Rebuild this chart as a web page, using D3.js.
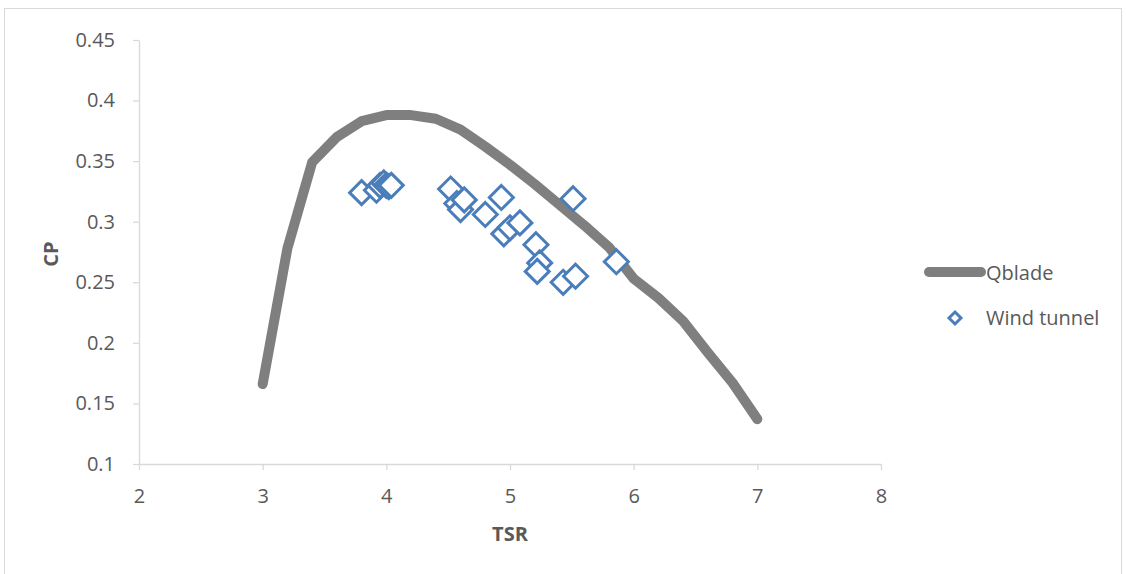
<!DOCTYPE html>
<html><head><meta charset="utf-8">
<script src="https://cdn.jsdelivr.net/npm/d3@7"></script>
<style>body{margin:0;background:#fff}svg{display:block}text{font-family:"Open Sans",sans-serif}</style>
</head><body><svg id="c" width="1126" height="574"></svg>
<script>
const qbladeTSR = [3.0, 3.2, 3.4, 3.6, 3.8, 4.0, 4.2, 4.4, 4.6, 4.8, 5.0, 5.2, 5.4, 5.6, 5.8, 6.0, 6.2, 6.4, 6.6, 6.8, 7.0];
const qbladeCP  = [0.166, 0.278, 0.349, 0.37, 0.383, 0.388, 0.388, 0.385, 0.376, 0.362, 0.347, 0.331, 0.314, 0.297, 0.279, 0.253, 0.237, 0.218, 0.192, 0.167, 0.137];
const tunnelTSR = [3.80, 3.92, 3.95, 3.98, 4.00, 4.02, 4.04, 4.52, 4.57, 4.60, 4.63, 4.80, 4.93, 4.95, 5.00, 5.08, 5.21, 5.24, 5.22, 5.43, 5.53, 5.51, 5.86];
const tunnelCP  = [0.324, 0.326, 0.330, 0.332, 0.330, 0.329, 0.330, 0.327, 0.315, 0.310, 0.318, 0.306, 0.320, 0.290, 0.295, 0.299, 0.281, 0.266, 0.259, 0.250, 0.255, 0.319, 0.267];
const xTicks = [2, 3, 4, 5, 6, 7, 8];
const yTicks = [0.1, 0.15, 0.2, 0.25, 0.3, 0.35, 0.4, 0.45];
const seriesNames = ["Qblade", "Wind tunnel"];

const FS = 20;
const svg = d3.select("#c");
svg.append("rect").attr("x", 4.5).attr("y", 8.5).attr("width", 1117).attr("height", 570)
  .attr("fill", "#fff").attr("stroke", "#d9d9d9");

const x = d3.scaleLinear().domain([2, 8]).range([139, 881]);
const y = d3.scaleLinear().domain([0.1, 0.45]).range([464, 40]);

const axisCol = "#d9d9d9", txtCol = "#595959";
const xa = svg.append("g").attr("transform", "translate(0,464)")
  .call(d3.axisBottom(x).tickValues(xTicks).tickSize(6).tickSizeOuter(0).tickFormat(d3.format("d")));
const ya = svg.append("g").attr("transform", "translate(139,0)")
  .call(d3.axisLeft(y).tickValues(yTicks).tickSize(6).tickSizeOuter(0).tickFormat(d => String(+d.toFixed(2))));
[xa, ya].forEach(g => {
  g.select(".domain").attr("stroke", axisCol).attr("stroke-width", 1.3);
  g.selectAll(".tick line").attr("stroke", axisCol).attr("stroke-width", 1.3);
  g.selectAll(".tick text").attr("fill", txtCol).attr("font-size", FS).attr("font-family", "'Open Sans', sans-serif");
});
xa.selectAll(".tick text").attr("y", 39).attr("dy", 0);
ya.selectAll(".tick text").attr("x", -24);

svg.append("text").attr("x", 510).attr("y", 541).attr("text-anchor", "middle")
  .attr("font-size", FS).attr("font-weight", "bold").attr("fill", txtCol).text("TSR");
svg.append("text").attr("transform", "translate(58,254) rotate(-90)").attr("text-anchor", "middle")
  .attr("font-size", FS).attr("font-weight", "bold").attr("fill", txtCol).text("CP");

const lineData = qbladeTSR.map((t, i) => [t, qbladeCP[i]]);
svg.append("path").datum(lineData)
  .attr("d", d3.line().x(d => x(d[0])).y(d => y(d[1])))
  .attr("fill", "none").attr("stroke", "#7f7f7f").attr("stroke-width", 10)
  .attr("stroke-linejoin", "round").attr("stroke-linecap", "round");

const blue = "#4a7ebb";
function diamond(r) { return `M0,${-r}L${r},0L0,${r}L${-r},0Z`; }
const pts = tunnelTSR.map((t, i) => [t, tunnelCP[i]]);
svg.append("g").selectAll("path").data(pts).join("path")
  .attr("transform", d => `translate(${x(d[0])},${y(d[1])})`)
  .attr("d", diamond(12)).attr("fill", "#fff").attr("stroke", blue).attr("stroke-width", 3);

// legend
const lg = svg.append("g");
lg.append("line").attr("x1", 929).attr("x2", 981).attr("y1", 272).attr("y2", 272)
  .attr("stroke", "#7f7f7f").attr("stroke-width", 10).attr("stroke-linecap", "round");
lg.append("text").attr("x", 986).attr("y", 280).attr("font-size", FS).attr("fill", txtCol).text(seriesNames[0]);
lg.append("path").attr("transform", "translate(955,318)").attr("d", diamond(6))
  .attr("fill", "#fff").attr("stroke", blue).attr("stroke-width", 3);
lg.append("text").attr("x", 986).attr("y", 325).attr("font-size", FS).attr("fill", txtCol).text(seriesNames[1]);
</script></body></html>
